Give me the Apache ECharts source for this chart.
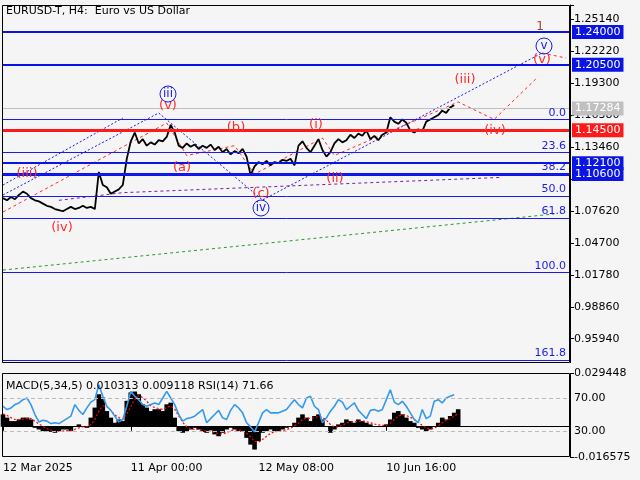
<!DOCTYPE html>
<html>
<head>
<meta charset="utf-8">
<script src="https://cdn.jsdelivr.net/npm/echarts@6/dist/echarts.min.js"></script>
<style>html,body{margin:0;padding:0;background:#f5f5f5}#chart{width:640px;height:480px}</style>
</head>
<body>
<div id="chart"></div>
<script>
// 数据
const dateLabels = { 0: "12 Mar 2025", 32: "11 Apr 00:00", 64: "12 May 08:00", 96: "10 Jun 16:00" };
const priceTicks = [1.25140, 1.22220, 1.19300, 1.16380, 1.13460, 1.07620, 1.04700, 1.01780, 0.98860, 0.95940];
const closes = [1.088,1.086,1.089,1.087,1.091,1.094,1.092,1.088,1.086,1.085,1.083,1.081,1.080,1.078,1.077,1.076,
  1.078,1.080,1.078,1.079,1.081,1.079,1.080,1.078,1.112,1.100,1.098,1.092,1.094,1.096,1.100,
  1.124,1.140,1.148,1.138,1.142,1.136,1.139,1.137,1.141,1.140,1.144,1.155,1.148,
  1.136,1.134,1.138,1.135,1.137,1.133,1.136,1.134,1.137,1.132,1.135,1.130,1.133,1.128,1.131,1.129,1.133,
  1.126,1.109,1.117,1.121,1.119,1.122,1.118,1.121,1.120,1.123,1.122,1.124,1.118,1.136,1.140,
  1.134,1.130,1.136,1.142,1.132,1.126,1.130,1.138,1.142,1.139,1.141,1.146,1.143,1.147,1.145,
  1.150,1.142,1.145,1.141,1.146,1.148,1.162,1.158,1.156,1.160,1.157,1.150,1.148,1.151,1.149,
  1.158,1.160,1.162,1.164,1.168,1.166,1.171,1.173];
const macdHist = [0.0068,0.0050,0.0031,0.0031,0.0040,0.0050,0.0050,0.0040,-0.0006,-0.0015,-0.0024,-0.0028,-0.0028,-0.0033,-0.0024,-0.0015,
  -0.0015,-0.0024,0.0004,0.0013,0.0004,-0.0006,0.0050,0.0105,0.0178,0.0160,0.0086,0.0050,0.0022,0.0040,0.0031,
  0.0142,0.0188,0.0193,0.0178,0.0123,0.0105,0.0086,0.0096,0.0096,0.0086,0.0123,0.0132,0.0050,
  -0.0024,-0.0033,-0.0024,-0.0015,-0.0006,-0.0015,-0.0028,-0.0033,-0.0020,-0.0042,-0.0052,-0.0033,-0.0015,-0.0006,-0.0015,-0.0024,-0.0028,
  -0.0061,-0.0098,-0.0125,-0.0079,-0.0033,-0.0024,-0.0015,-0.0024,-0.0024,-0.0015,-0.0006,0.0004,0.0022,0.0050,0.0068,
  0.0050,0.0031,0.0059,0.0068,0.0040,0.0004,-0.0033,-0.0015,0.0013,0.0022,0.0040,0.0031,0.0022,0.0040,0.0031,
  0.0022,0.0013,0.0004,0.0004,0.0004,0.0013,0.0040,0.0077,0.0086,0.0068,0.0050,0.0031,0.0022,-0.0006,-0.0015,
  -0.0024,-0.0015,0.0004,0.0022,0.0050,0.0040,0.0059,0.0077,0.0096];
const macdSignal = [0.0070,0.0062,0.0050,0.0040,0.0038,0.0042,0.0046,0.0045,0.0030,0.0015,0.0002,-0.0010,-0.0018,-0.0024,-0.0026,-0.0024,
  -0.0021,-0.0021,-0.0014,-0.0006,0.0000,0.0000,0.0012,0.0040,0.0085,0.0115,0.0110,0.0090,0.0065,0.0050,0.0040,
  0.0070,0.0110,0.0150,0.0170,0.0160,0.0140,0.0115,0.0105,0.0100,0.0095,0.0105,0.0115,0.0095,
  0.0060,0.0025,0.0000,-0.0012,-0.0015,-0.0014,-0.0018,-0.0024,-0.0026,-0.0030,-0.0038,-0.0040,-0.0032,-0.0022,-0.0016,-0.0018,-0.0022,
  -0.0035,-0.0055,-0.0080,-0.0085,-0.0070,-0.0052,-0.0036,-0.0028,-0.0024,-0.0021,-0.0016,-0.0008,0.0004,0.0020,0.0040,
  0.0048,0.0045,0.0050,0.0056,0.0052,0.0036,0.0012,-0.0002,0.0000,0.0008,0.0020,0.0026,0.0026,0.0030,0.0032,
  0.0028,0.0022,0.0015,0.0010,0.0007,0.0009,0.0020,0.0040,0.0058,0.0066,0.0062,0.0052,0.0040,0.0024,0.0008,
  -0.0006,-0.0012,-0.0008,0.0004,0.0022,0.0034,0.0044,0.0058,0.0072];
const rsi = [60,56,58,62,64,68,70,62,50,41,43,42,39,40,39,42,45,48,62,55,50,58,65,68,86,72,60,55,48,41,44,
  60,78,72,68,62,60,62,64,62,70,78,70,62,50,42,45,46,48,52,56,40,45,50,55,46,44,55,62,58,52,
  40,35,29,40,52,56,52,52,52,54,56,62,68,62,58,70,72,60,56,40,46,54,60,68,65,56,60,64,55,50,
  45,55,56,54,56,68,80,65,62,66,60,52,44,40,56,45,48,66,68,64,70,72,74];
// 水平位
const redLevel = 1.145;
const lastPrice = 1.17284;
const fibLevels = [1.1567, 1.1250, 1.1053, 1.0895, 1.0736, 1.0222, 0.9391];
const fibNames = ["0.0", "23.6", "38.2", "50.0", "61.8", "100.0", "161.8"];
// 波浪线 [index, price]
const blueChannelA = [[0, 1.100], [30, 1.1613]];
const blueChannelB = [[0, 1.0909], [39, 1.1659]];
const blueWave = [[39, 1.1659], [64.5, 1.0863], [135, 1.2208]];
const redWave = [[0, 1.0753], [41, 1.1567], [46, 1.127], [58, 1.136], [63, 1.110], [80, 1.143], [83, 1.127], [114, 1.176], [123, 1.160], [134, 1.199]];
const redTail = [[135, 1.2208], [141, 1.2162]];
const purpleLine = [[14, 1.086], [30, 1.093], [125, 1.107]];
const greenLine = [[0, 1.0222], [138, 1.0735]];

const N = 143;
const cats = [];
for (let i = 0; i < N; i++) cats.push(dateLabels[i] || "");
const font = "DejaVu Sans";

const myChart = echarts.init(document.getElementById("chart"));

function boxLine(v, bg, txt, w) {
  return {
    yAxis: v,
    lineStyle: { color: bg, width: w, type: "solid" },
    label: { show: true, position: "end", distance: 2, formatter: txt, color: "#fff", backgroundColor: bg,
      padding: [2, 3, 1, 3], fontFamily: font, fontSize: 11 }
  };
}
const levelLines = [
  boxLine(1.24, "#0a14e6", "1.24000", 2),
  boxLine(1.205, "#0a14e6", "1.20500", 2),
  boxLine(1.121, "#0a14e6", "1.12100", 2),
  boxLine(1.106, "#0a14e6", "1.10600", 3),
  boxLine(redLevel, "#ff1a1a", "1.14500", 3),
  boxLine(lastPrice, "#c0c0c0", "1.17284", 1)
];
fibLevels.forEach((v, i) => {
  levelLines.push({ yAxis: v, lineStyle: { color: "#1a1aee", width: 1, type: "solid" },
    label: { show: true, position: "insideEndTop", distance: [4, 1], formatter: fibNames[i], color: "#1a1aee", fontFamily: font, fontSize: 11 } });
});

function wave(data, color, type) {
  return { type: "line", data: data, xAxisIndex: 0, yAxisIndex: 0, symbol: "none", silent: true, z: 3,
    lineStyle: { color: color, width: 1, type: type } };
}

const redTxt = { fill: "#ff2a2a", font: "13px " + font };
const labels = [
  ["(iii)", 27, 174], ["(iv)", 62, 228], ["(v)", 168, 106], ["(a)", 182, 168], ["(b)", 236, 128], ["(c)", 261, 194],
  ["(i)", 316, 125], ["(ii)", 335, 179], ["(iii)", 465, 80], ["(iv)", 495, 131], ["(v)", 542, 60]
];
const graphics = labels.map(l => ({ type: "text", x: l[1], y: l[2], style: Object.assign({ text: l[0], align: "center", verticalAlign: "middle" }, redTxt), z: 100 }));
[["iii", 168, 94], ["iv", 261, 208], ["v", 544, 46]].forEach(c => {
  graphics.push({ type: "circle", shape: { cx: c[1], cy: c[2], r: 8 }, style: { fill: "none", stroke: "#1a1aee", lineWidth: 1 }, z: 100 });
  graphics.push({ type: "text", x: c[1], y: c[2], style: { text: c[0], fill: "#1a1aee", font: "12px " + font, align: "center", verticalAlign: "middle" }, z: 101 });
});
graphics.push({ type: "text", x: 540, y: 27, style: { text: "1", fill: "#a0402a", font: "12px " + font, align: "center", verticalAlign: "middle" }, z: 100 });
graphics.push({ type: "text", x: 6, y: 6, style: { text: "EURUSD-T, H4:  Euro vs US Dollar", fill: "#000", font: "11px " + font }, z: 100 });
graphics.push({ type: "text", x: 6, y: 381, style: { text: "MACD(5,34,5) 0.010313 0.009118 RSI(14) 71.66", fill: "#000", font: "11px " + font }, z: 100 });
graphics.push({ type: "rect", shape: { x: 2.5, y: 5.5, width: 567, height: 357 }, style: { fill: "none", stroke: "#000", lineWidth: 1 }, z: 90 });
graphics.push({ type: "rect", shape: { x: 0, y: 363, width: 575, height: 10 }, style: { fill: "#f5f5f5" }, z: 80 });
graphics.push({ type: "rect", shape: { x: 2.5, y: 373.5, width: 567, height: 83 }, style: { fill: "none", stroke: "#000", lineWidth: 1 }, z: 90 });
graphics.push({ type: "text", x: 574, y: 398, style: { text: "70.00", fill: "#000", font: "11px " + font, verticalAlign: "middle" }, z: 100 });
graphics.push({ type: "text", x: 574, y: 431, style: { text: "30.00", fill: "#000", font: "11px " + font, verticalAlign: "middle" }, z: 100 });

const option = {
  backgroundColor: "#f5f5f5",
  animation: false,
  textStyle: { fontFamily: font },
  grid: [
    { left: 3, right: 70, top: 5, height: 365.6 },
    { left: 3, right: 70, top: 373, height: 84 }
  ],
  xAxis: [
    { type: "category", gridIndex: 0, data: cats, boundaryGap: false, show: false },
    { type: "category", gridIndex: 1, data: cats, boundaryGap: false,
      axisLine: { lineStyle: { color: "#000" } },
      axisTick: { interval: (i, v) => v !== "", length: 4, lineStyle: { color: "#000" } },
      axisLabel: { interval: (i, v) => v !== "", align: "left", color: "#000", fontSize: 11, margin: 6 } }
  ],
  yAxis: [
    { type: "value", gridIndex: 0, position: "right", min: 0.9302, max: 1.2647, interval: 0.0292,
      splitLine: { show: false },
      axisLine: { show: true, lineStyle: { color: "#000" } },
      axisTick: { show: true, length: 4, lineStyle: { color: "#000" } },
      axisLabel: { color: "#000", fontSize: 11, margin: 4,
        formatter: v => priceTicks.some(t => Math.abs(t - v) < 0.0002) ? v.toFixed(5) : "" } },
    { type: "value", gridIndex: 1, position: "right", min: -0.016575, max: 0.029448, interval: 0.046023,
      splitLine: { show: false },
      axisLine: { show: true, lineStyle: { color: "#000" } },
      axisTick: { show: true, length: 4, lineStyle: { color: "#000" } },
      axisLabel: { color: "#000", fontSize: 11, margin: 4, formatter: v => v.toFixed(6) } },
    { type: "value", gridIndex: 1, min: -1.5, max: 100.3, show: false }
  ],
  graphic: graphics,
  series: [
    { type: "line", name: "price", data: closes, xAxisIndex: 0, yAxisIndex: 0, symbol: "none", z: 4,
      lineStyle: { color: "#000", width: 1.8 },
      markLine: { symbol: "none", silent: true, data: levelLines } },
    wave(blueChannelA, "#1a1aee", [2, 2]),
    wave(blueChannelB, "#1a1aee", [2, 2]),
    wave(blueWave, "#1a1aee", [2, 2]),
    wave(redWave, "#ff2a2a", [3, 3]),
    wave(redTail, "#ff2a2a", [3, 3]),
    wave(purpleLine, "#7a1aa8", [3, 3]),
    wave(greenLine, "#2a9a2a", [3, 3]),
    { type: "bar", data: macdHist, xAxisIndex: 1, yAxisIndex: 1, barWidth: 4.6,
      itemStyle: { color: "#000" }, silent: true },
    { type: "line", data: macdSignal, xAxisIndex: 1, yAxisIndex: 1, symbol: "none", silent: true,
      lineStyle: { color: "#ff0000", width: 1.2, type: [2, 2] } },
    { type: "line", data: rsi, xAxisIndex: 1, yAxisIndex: 2, symbol: "none", silent: true,
      lineStyle: { color: "#3399ee", width: 1.6 },
      markLine: { symbol: "none", silent: true, label: { show: false },
        lineStyle: { color: "#bbb", type: [4, 3], width: 1 }, data: [{ yAxis: 70 }, { yAxis: 30 }] } }
  ]
};
myChart.setOption(option);
</script>
</body>
</html>
